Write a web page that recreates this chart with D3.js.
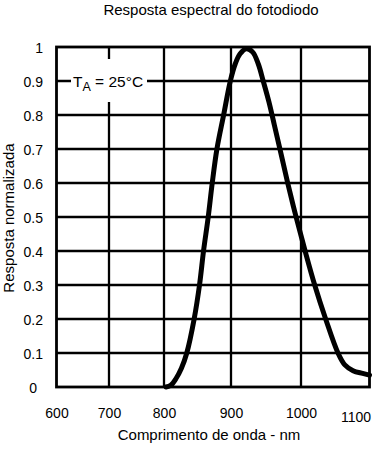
<!DOCTYPE html>
<html><head><meta charset="utf-8">
<script src="https://cdn.jsdelivr.net/npm/d3@7"></script>
<style>
body{margin:0;background:#fff}
text{font-family:"Liberation Sans",Arial,Helvetica,sans-serif;fill:#000}
</style>
</head><body>
<svg id="chart" width="380" height="457"></svg>
<script>
const xTicks = [600, 700, 800, 900, 1000, 1100];
const yTicks = [0, 0.1, 0.2, 0.3, 0.4, 0.5, 0.6, 0.7, 0.8, 0.9, 1];
const yTickLabels = ["0", "0.1", "0.2", "0.3", "0.4", "0.5", "0.6", "0.7", "0.8", "0.9", "1"];
const wavelength = [803, 810, 818, 826, 834, 845, 853, 859, 866, 872, 879, 889, 899, 906, 913, 922, 931, 939, 946, 954, 962, 971, 981, 993, 1006, 1020, 1036, 1054, 1064, 1076, 1090, 1100];
const response   = [0, 0.005, 0.025, 0.055, 0.1, 0.2, 0.3, 0.4, 0.5, 0.6, 0.7, 0.8, 0.9, 0.95, 0.98, 0.995, 0.985, 0.95, 0.9, 0.84, 0.77, 0.69, 0.6, 0.5, 0.4, 0.3, 0.2, 0.1, 0.065, 0.048, 0.04, 0.035];
const titleText = "Resposta espectral do fotodiodo";
const xTitle = "Comprimento de onda - nm";
const yTitle = "Resposta normalizada";

const svg = d3.select("#chart");
const x = d3.scaleLinear().domain(xTicks).range([56.5, 109, 164, 231, 301, 369.5]);
const y = d3.scaleLinear().domain([0, 1]).range([387, 47]);

// title
svg.append("text").attr("x", 211).attr("y", 15).attr("text-anchor", "middle")
  .attr("font-size", 15).text(titleText);

// grid
const g = svg.append("g");
g.selectAll("line.h").data(yTicks.slice(1, -1)).join("line")
  .attr("x1", x(600)).attr("x2", x(1100)).attr("y1", d => y(d)).attr("y2", d => y(d))
  .attr("stroke", "#000").attr("stroke-width", 2.3);
g.selectAll("line.v").data(xTicks.slice(1, -1)).join("line")
  .attr("y1", y(0)).attr("y2", y(1)).attr("x1", d => x(d)).attr("x2", d => x(d))
  .attr("stroke", "#000").attr("stroke-width", 2.3);
g.append("rect").attr("x", x(600)).attr("y", y(1)).attr("width", x(1100) - x(600)).attr("height", y(0) - y(1))
  .attr("fill", "none").attr("stroke", "#000").attr("stroke-width", 2.8);

// label box
svg.append("rect").attr("x", 71).attr("y", 59).attr("width", 76).attr("height", 43).attr("fill", "#fff");
const ta = svg.append("text").attr("x", 73).attr("y", y(0.9) + 5.5).attr("font-size", 15.5);
ta.append("tspan").text("T");
ta.append("tspan").attr("font-size", 12.5).attr("dy", 4).text("A");
ta.append("tspan").attr("dy", -4).text(" = 25°C");

// curve
const line = d3.line().x(d => x(d[0])).y(d => y(d[1])).curve(d3.curveCatmullRom.alpha(0.5));
svg.append("path").datum(wavelength.map((w, i) => [w, response[i]]))
  .attr("d", line).attr("fill", "none").attr("stroke", "#000").attr("stroke-width", 5)
  .attr("stroke-linejoin", "round").attr("stroke-linecap", "round");

// axes labels
const xa = svg.append("g").attr("transform", "translate(0,398)")
  .call(d3.axisBottom(x).tickValues(xTicks).tickFormat(d3.format("d")).tickSize(0).tickPadding(10));
xa.select(".domain").remove();
xa.selectAll("text").attr("font-size", 14).attr("font-family", null);
xa.selectAll("text").filter(d => d === 1100).attr("dx", -14).attr("dy", "1em");

const ya = svg.append("g").attr("transform", "translate(43,0)")
  .call(d3.axisLeft(y).tickValues(yTicks).tickFormat((d, i) => yTickLabels[i]).tickSize(0).tickPadding(0));
ya.select(".domain").remove();
ya.selectAll("text").attr("font-size", 14).attr("font-family", null).attr("dy", "0.42em");
ya.selectAll("text").filter(d => d === 0).attr("dx", -6);

svg.append("text").attr("x", 209).attr("y", 440).attr("text-anchor", "middle").attr("font-size", 15).text(xTitle);
svg.append("text").attr("transform", "translate(14,218) rotate(-90)").attr("text-anchor", "middle")
  .attr("font-size", 15).text(yTitle);
</script>
</body></html>
